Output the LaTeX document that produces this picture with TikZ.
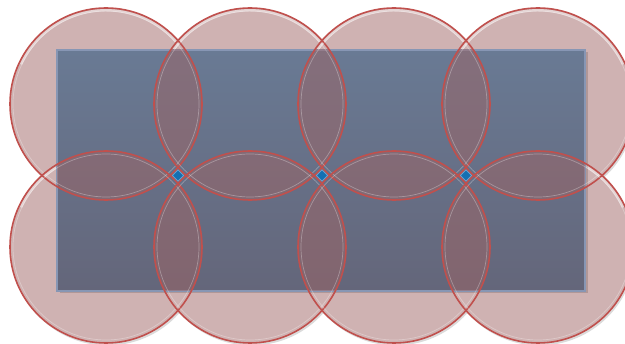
\documentclass[tikz,border=0pt]{standalone}
\usetikzlibrary{shapes.geometric}
\definecolor{ringfill}{RGB}{207,178,178}
\definecolor{ringline}{RGB}{192,80,77}
\definecolor{lensfill}{RGB}{159,101,101}
\definecolor{recttop}{RGB}{105,122,148}
\definecolor{rectbot}{RGB}{100,102,122}
\definecolor{rectedge}{RGB}{135,150,180}
\definecolor{dia}{RGB}{20,112,178}
\definecolor{diaedge}{RGB}{110,165,210}
\tikzset{
  ringshadow/.style={fill=black,fill opacity=0.14},
  ringbody/.style={fill=ringfill},
  lens/.style={fill=lensfill,fill opacity=0.5},
  ringedge/.style={draw=ringline,line width=1.6pt},
  ringglow/.style={draw=white,draw opacity=0.3,line width=0.7pt},
  ringtop/.style={draw=white,draw opacity=0.45,line width=2.4pt},
  panel/.style={top color=recttop,bottom color=rectbot,draw=rectedge,line width=1.2pt},
  panelshadow/.style={fill=black,fill opacity=0.15},
  joint/.style={diamond,minimum size=11.5pt,inner sep=0pt,fill=dia,draw=diaedge,line width=0.7pt}
}
\begin{document}
\begin{tikzpicture}[x=1pt,y=1pt]
\useasboundingbox (0,0) rectangle (625,-344);
\clip (0,0) rectangle (625,-344);
\def\R{96}
% ring centres
\coordinate (a1) at (106,-104);
\coordinate (a2) at (250,-104);
\coordinate (a3) at (394,-104);
\coordinate (a4) at (538,-104);
\coordinate (b1) at (106,-247);
\coordinate (b2) at (250,-247);
\coordinate (b3) at (394,-247);
\coordinate (b4) at (538,-247);
\coordinate (p1) at (57,-50);
\coordinate (p2) at (585,-291);
% ring shadows
\foreach \c in {a1,a2,a3,a4,b1,b2,b3,b4}
  \path[ringshadow] ([shift={(1.5,-2.5)}]\c) circle[radius=\R];
% ring bodies with top highlight
\foreach \c in {a1,a2,a3,a4,b1,b2,b3,b4}{
  \path[ringbody] (\c) circle[radius=\R];
  \path[ringtop] ([shift={(155:\R-2.3)}]\c) arc[start angle=155,end angle=25,radius=\R-2.3];
}
% panel
\path[panelshadow] ([shift={(2.5,-2.5)}]p1) rectangle ([shift={(2.5,-2.5)}]p2);
\path[panel] (p1) rectangle (p2);
% lenses inside the panel
\begin{scope}
  \clip (p1) rectangle (p2);
  \foreach \u/\v in {a1/a2,a2/a3,a3/a4,b1/b2,b2/b3,b3/b4,a1/b1,a2/b2,a3/b3,a4/b4}{
    \begin{scope}
      \clip (\u) circle[radius=\R];
      \path[lens] (\v) circle[radius=\R];
    \end{scope}
  }
\end{scope}
% ring edges
\foreach \c in {a1,a2,a3,a4,b1,b2,b3,b4}{
  \path[ringglow] (\c) circle[radius=\R-3];
  \path[ringedge] (\c) circle[radius=\R];
}
% joints
\node[joint] (j1) at (178,-175.5) {};
\node[joint] (j2) at (322,-175.5) {};
\node[joint] (j3) at (466,-175.5) {};
\end{tikzpicture}
\end{document}
